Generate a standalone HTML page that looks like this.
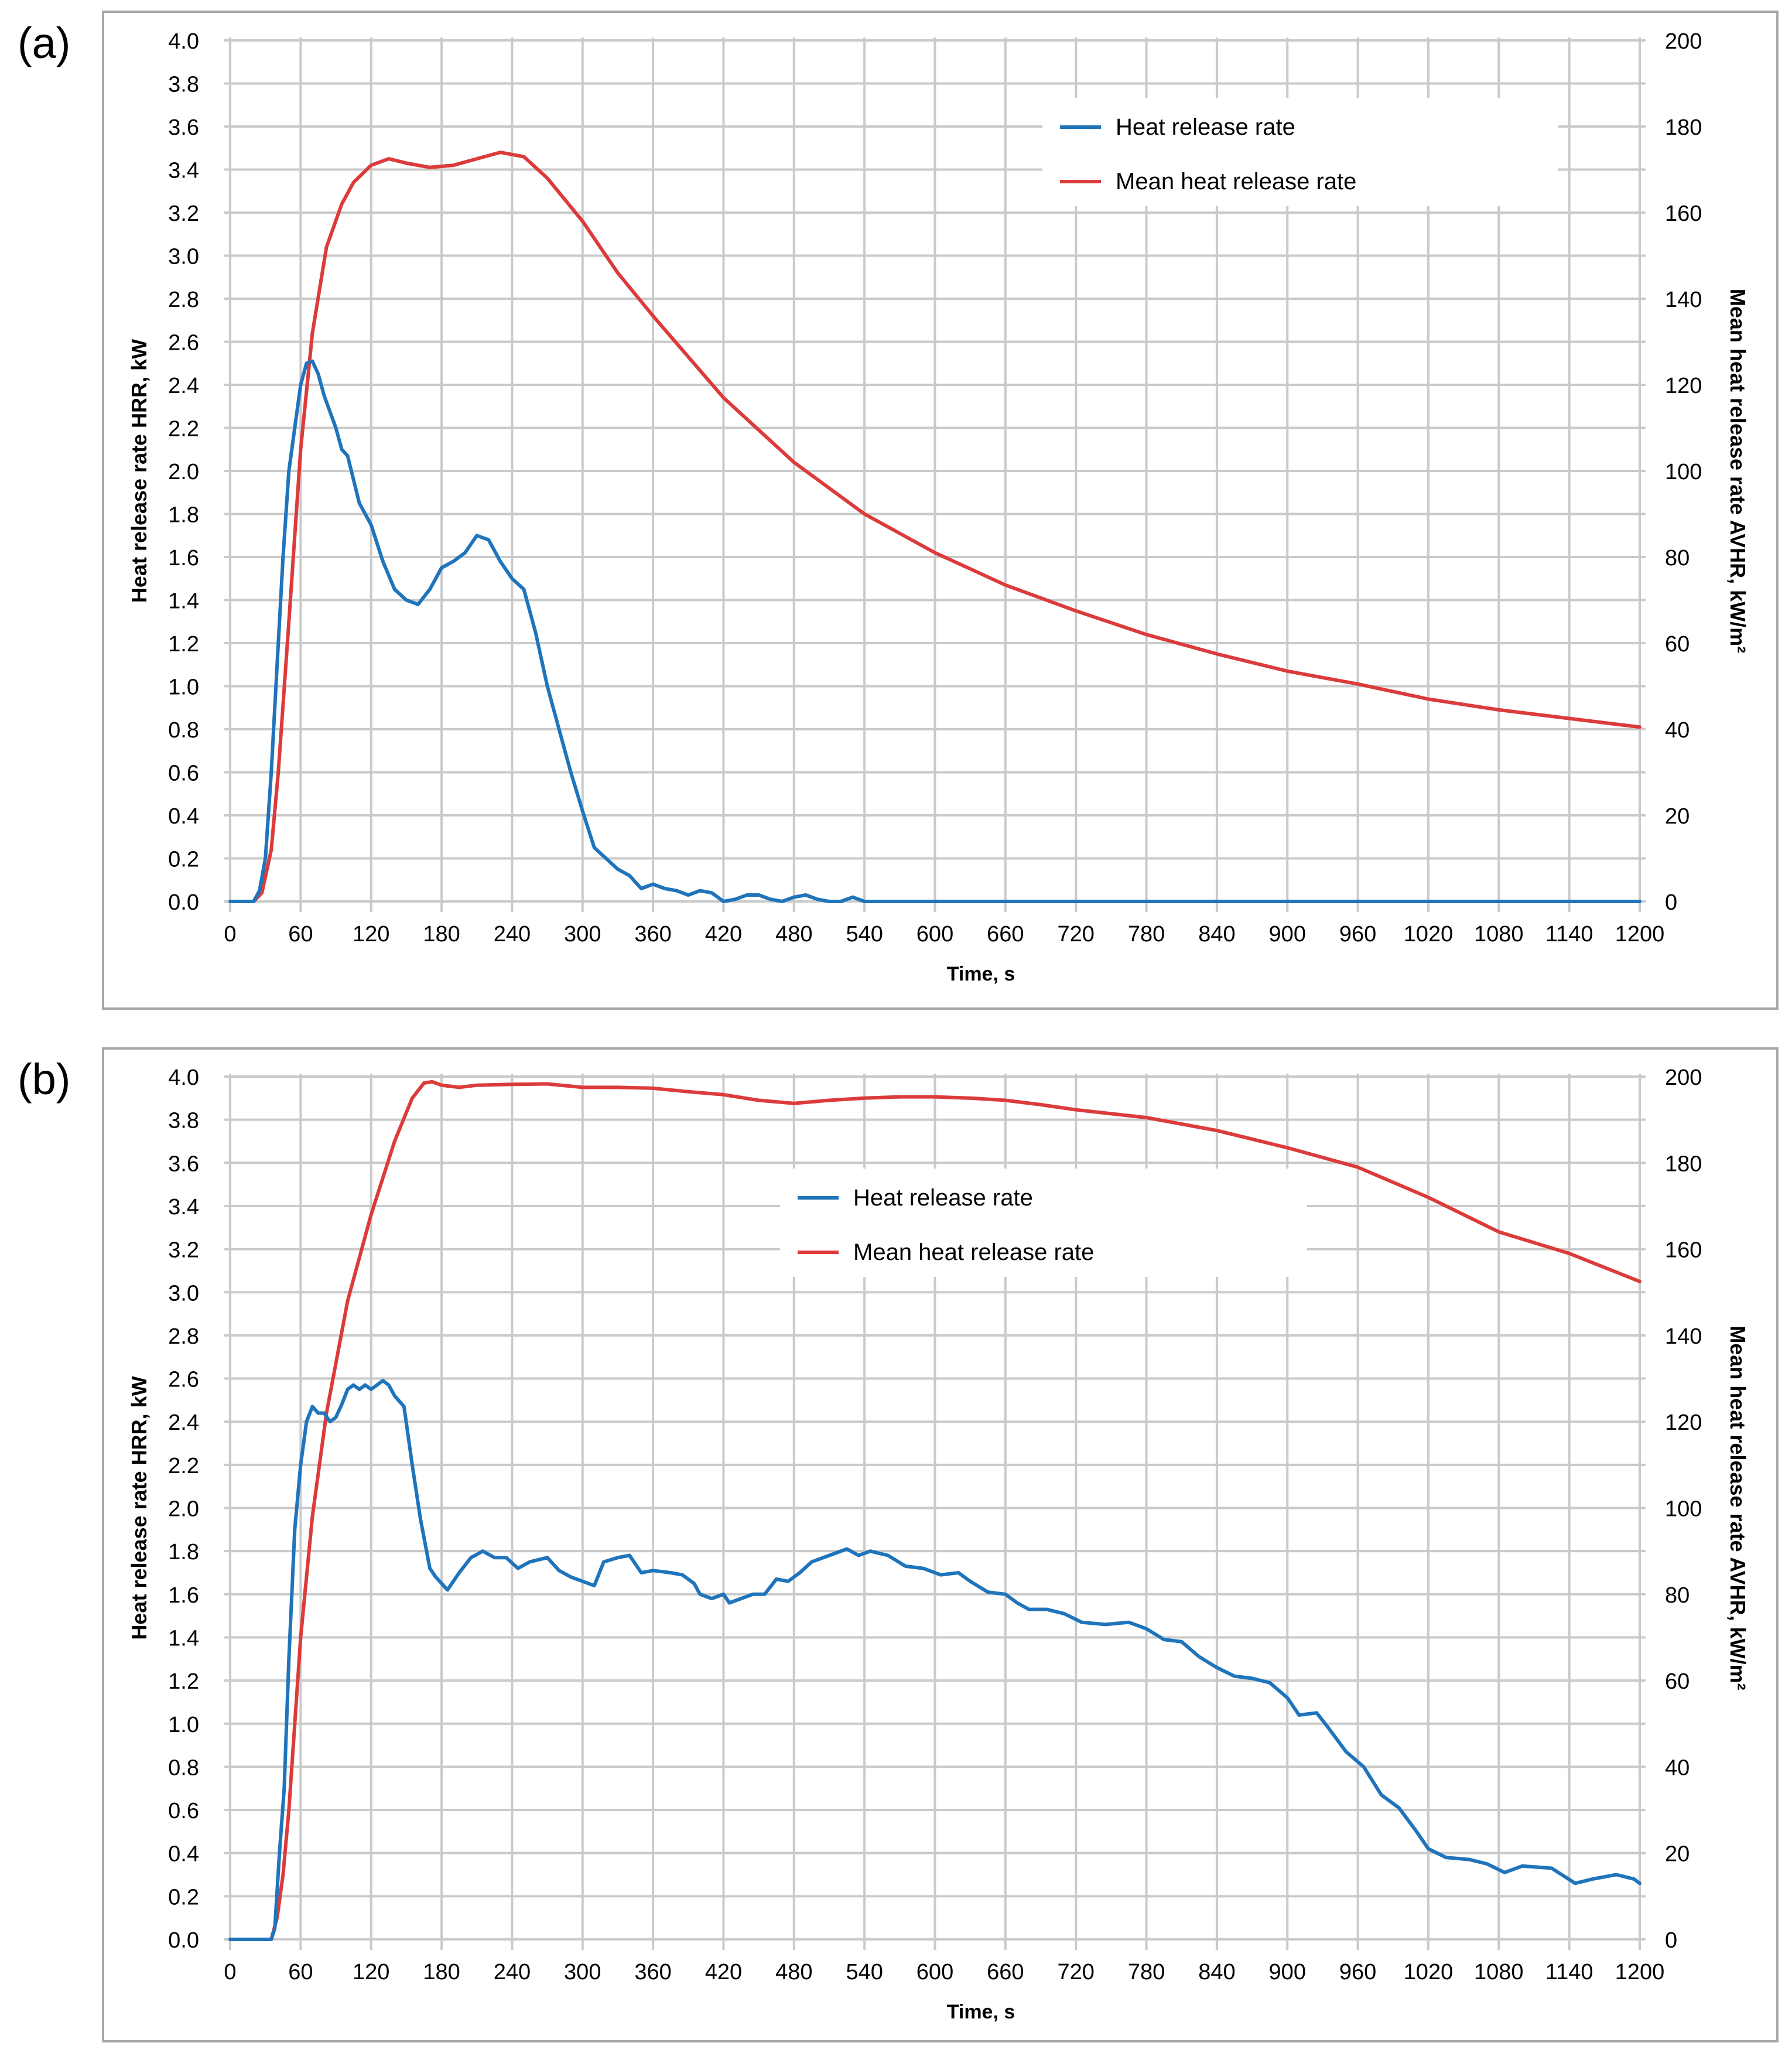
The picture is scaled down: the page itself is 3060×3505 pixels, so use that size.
<!DOCTYPE html>
<html><head><meta charset="utf-8">
<style>
html,body{margin:0;padding:0;background:#fff;}
svg{display:block;font-family:"Liberation Sans",sans-serif;}
</style></head>
<body>
<svg id="fig" width="3060" height="3505" viewBox="0 0 3060 3505" xmlns="http://www.w3.org/2000/svg"></svg>
<script>
// ---- data ----
const xTicks = [0,60,120,180,240,300,360,420,480,540,600,660,720,780,840,900,960,1020,1080,1140,1200];
const yLeftTicks = ["0.0","0.2","0.4","0.6","0.8","1.0","1.2","1.4","1.6","1.8","2.0","2.2","2.4","2.6","2.8","3.0","3.2","3.4","3.6","3.8","4.0"];
const yRightTicks = [0,20,40,60,80,100,120,140,160,180,200];

const aHrrT = [0,20,25,30,35,40,45,50,55,60,65,70,75,80,90,95,100,110,120,130,140,150,160,170,180,190,200,210,220,230,240,250,260,270,280,290,300,310,320,330,340,350,360,370,380,390,400,410,420,430,440,450,460,470,480,490,500,510,520,530,540,1200];
const aHrrV = [0,0,0.05,0.2,0.6,1.1,1.6,2.0,2.2,2.4,2.5,2.51,2.45,2.35,2.2,2.1,2.07,1.85,1.75,1.58,1.45,1.4,1.38,1.45,1.55,1.58,1.62,1.7,1.68,1.58,1.5,1.45,1.25,1.0,0.8,0.6,0.42,0.25,0.2,0.15,0.12,0.06,0.08,0.06,0.05,0.03,0.05,0.04,0,0.01,0.03,0.03,0.01,0,0.02,0.03,0.01,0,0,0.02,0,0];
const aMeanT = [0,20,27,35,41,50,60,70,82,95,105,120,135,150,170,190,210,230,250,270,300,330,360,420,480,540,600,660,720,780,840,900,960,1020,1080,1140,1200];
const aMeanV = [0,0,2,12,30,65,105,132,152,162,167,171,172.5,171.5,170.5,171,172.5,174,173,168,158,146,136,117,102,90,81,73.5,67.5,62,57.5,53.5,50.5,47,44.5,42.5,40.5];

const bHrrT = [0,35,38,42,46,50,55,60,65,70,75,80,85,90,95,100,105,110,115,120,125,130,135,140,148,155,162,170,175,185,195,205,215,225,235,245,255,270,280,290,300,310,318,330,340,350,360,375,385,395,400,410,420,425,435,445,455,465,475,485,495,510,525,535,545,560,575,590,605,620,630,645,660,670,680,695,710,725,745,765,780,795,810,825,840,855,870,885,900,910,925,935,950,965,980,995,1010,1020,1035,1055,1070,1085,1100,1125,1145,1160,1180,1195,1200];
const bHrrV = [0,0,0.05,0.4,0.7,1.3,1.9,2.2,2.4,2.47,2.44,2.44,2.4,2.42,2.48,2.55,2.57,2.55,2.57,2.55,2.57,2.59,2.57,2.52,2.47,2.2,1.95,1.72,1.68,1.62,1.7,1.77,1.8,1.77,1.77,1.72,1.75,1.77,1.71,1.68,1.66,1.64,1.75,1.77,1.78,1.7,1.71,1.7,1.69,1.65,1.6,1.58,1.6,1.56,1.58,1.6,1.6,1.67,1.66,1.7,1.75,1.78,1.81,1.78,1.8,1.78,1.73,1.72,1.69,1.7,1.66,1.61,1.6,1.56,1.53,1.53,1.51,1.47,1.46,1.47,1.44,1.39,1.38,1.31,1.26,1.22,1.21,1.19,1.12,1.04,1.05,0.98,0.87,0.8,0.67,0.61,0.5,0.42,0.38,0.37,0.35,0.31,0.34,0.33,0.26,0.28,0.3,0.28,0.26];
const bMeanT = [0,35,40,45,50,60,70,82,100,120,140,155,165,172,180,195,210,240,270,300,330,360,390,420,450,480,510,540,570,600,630,660,690,720,780,840,900,960,1020,1080,1140,1200];
const bMeanV = [0,0,5,15,30,70,98,122,148,168,185,195,198.5,198.8,198,197.5,198,198.2,198.3,197.5,197.5,197.3,196.5,195.8,194.5,193.8,194.5,195,195.3,195.3,195,194.5,193.5,192.3,190.5,187.5,183.5,179,172,164,159,152.5];

const NS = "http://www.w3.org/2000/svg";
const svg = document.getElementById('fig');
function mk(tag, attrs, parent){const e=document.createElementNS(NS,tag);for(const k in attrs)e.setAttribute(k,attrs[k]);(parent||svg).appendChild(e);return e;}

function drawPanel(cfg){
  const g = mk('g',{});
  
  
  const L=393, R=2800, T=cfg.top, B=cfg.bottom;
  const xs = t => L + (R-L)*t/1200;
  const yl = v => B - (B-T)*v/4;
  const yr = v => B - (B-T)*v/200;
  const frame = mk('rect',{x:176,y:cfg.frameTop,width:2859,height:cfg.frameH,fill:'#fff',stroke:'#a8a8a8','stroke-width':4},g);
  
  
  const lab = mk('text',{x:30,y:cfg.top+30,'font-size':74,fill:'#000'},g);
  lab.textContent = cfg.label;
  
  
  for(let i=0;i<yLeftTicks.length;i++){
    const y=yl(i*0.2);
    const gl=mk('line',{x1:L-10,x2:R+10,y1:y,y2:y,stroke:'#cacaca','stroke-width':4},g);
    
    
    const t=mk('text',{x:340,y:y+14,'font-size':38,'text-anchor':'end',fill:'#000'},g);
    t.textContent=yLeftTicks[i];
    
    
  }
  for(const v of yRightTicks){
    const t=mk('text',{x:2843,y:yr(v)+14,'font-size':38,fill:'#000'},g);
    t.textContent=String(v);
    
    
  }
  for(const xv of xTicks){
    const x=xs(xv);
    const gl=mk('line',{x1:x,x2:x,y1:T-5,y2:B+18,stroke:'#cacaca','stroke-width':4},g);
    
    
    const t=mk('text',{x:x,y:B+68,'font-size':38,'text-anchor':'middle',fill:'#000'},g);
    t.textContent=String(xv);
    
    
  }
  const lg = mk('g',{},g);
  
  
  mk('rect',{x:cfg.legX-30,y:cfg.legY-50,width:cfg.legW,height:185,fill:'#fff'},lg);
  const entries=[['Heat release rate','#1f74bb'],['Mean heat release rate','#dc3b3b']];
  entries.forEach((e,i)=>{
    const y=cfg.legY+i*93;
    const ln=mk('line',{x1:cfg.legX,x2:cfg.legX+70,y1:y,y2:y,stroke:e[1],'stroke-width':6},lg);
    
    
    const t=mk('text',{x:cfg.legX+95,y:y+13,'font-size':40,fill:'#000'},lg);
    t.textContent=e[0];
    
    
  });
  const meanPts = cfg.meanT.map((t,i)=>xs(t).toFixed(1)+','+yr(cfg.meanV[i]).toFixed(1)).join(' ');
  const mp=mk('polyline',{points:meanPts,fill:'none',stroke:'#dc3b3b','stroke-width':6,'stroke-linejoin':'round','stroke-linecap':'round'},g);
  
  
  const hrrPts = cfg.hrrT.map((t,i)=>xs(t).toFixed(1)+','+yl(cfg.hrrV[i]).toFixed(1)).join(' ');
  const hp=mk('polyline',{points:hrrPts,fill:'none',stroke:'#1f74bb','stroke-width':6,'stroke-linejoin':'round','stroke-linecap':'round'},g);
  
  
  const my=(T+B)/2;
  const lt=mk('text',{x:0,y:0,'font-size':36,'font-weight':'bold','text-anchor':'middle',transform:`translate(250,${my}) rotate(-90)`},g);
  lt.textContent='Heat release rate HRR, kW';
  
  
  const rt=mk('text',{x:0,y:0,'font-size':36,'font-weight':'bold','text-anchor':'middle',transform:`translate(2955,${my}) rotate(90)`},g);
  rt.textContent='Mean heat release rate AVHR, kW/m²';
  
  
  const xt=mk('text',{x:1675,y:B+135,'font-size':34,'font-weight':'bold','text-anchor':'middle'},g);
  xt.textContent='Time, s';
  
  
}
drawPanel({name:'chart-a',label:'(a)',top:69,bottom:1539,frameTop:20,frameH:1702,legX:1810,legY:217,legW:880,hrrT:aHrrT,hrrV:aHrrV,meanT:aMeanT,meanV:aMeanV});
drawPanel({name:'chart-b',label:'(b)',top:1838,bottom:3311,frameTop:1790,frameH:1695,legX:1362,legY:2045,legW:900,hrrT:bHrrT,hrrV:bHrrV,meanT:bMeanT,meanV:bMeanV});
</script>
</body></html>
